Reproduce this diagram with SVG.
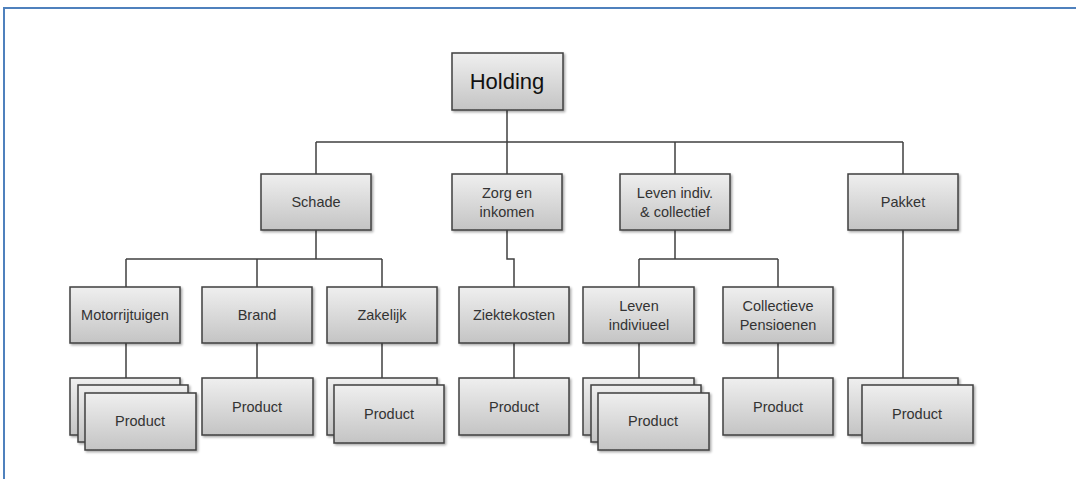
<svg xmlns="http://www.w3.org/2000/svg" width="1076" height="479" viewBox="0 0 1076 479">
<defs>
<linearGradient id="g" x1="0" y1="0" x2="0" y2="1">
<stop offset="0" stop-color="#efefef"/>
<stop offset="1" stop-color="#c4c4c4"/>
</linearGradient>
<filter id="sh" x="-10%" y="-10%" width="130%" height="130%">
<feDropShadow dx="1.5" dy="1.5" stdDeviation="1" flood-color="#000" flood-opacity="0.35"/>
</filter>
</defs>
<style>
.b{fill:url(#g);stroke:#404040;stroke-width:1.5;filter:url(#sh)}
.t{font-family:"Liberation Sans",Arial,sans-serif;font-size:14.5px;fill:#333;text-anchor:middle;dominant-baseline:central}
.h{font-family:"Liberation Sans",Arial,sans-serif;font-size:22px;fill:#111;text-anchor:middle;dominant-baseline:central}
.c{fill:none;stroke:#404040;stroke-width:1.5}
.f{fill:none;stroke:#4f81bd;stroke-width:2}
</style>
<rect width="1076" height="479" fill="#fff"/>
<path class="f" d="M4,479 V8 H1076"/>
<g id="connectors">
<path class="c" d="M507,110 V142 M316,142 H903 M316,142 V174 M507,142 V174 M675,142 V174 M903,142 V174"/>
<path class="c" d="M316,230 V259 M126,259 H382 M126,259 V287 M257,259 V287 M382,259 V287"/>
<path class="c" d="M507,230 V259 H514 V287"/>
<path class="c" d="M675,230 V259 M639,259 H778 M639,259 V287 M778,259 V287"/>
<path class="c" d="M903,230 V378"/>
<path class="c" d="M126,343 V378 M257,343 V378 M382,343 V378 M514,343 V378 M639,343 V378 M778,343 V378"/>
</g>
<g id="holding"><rect class="b" x="452" y="53" width="111" height="57"/><text class="h" x="507" y="81">Holding</text></g>
<g id="schade"><rect class="b" x="261" y="174" width="110" height="56"/><text class="t" x="316" y="202">Schade</text></g>
<g id="zorg"><rect class="b" x="452" y="174" width="110" height="56"/><text class="t" x="507" y="193">Zorg en</text><text class="t" x="507" y="212">inkomen</text></g>
<g id="leven-collectief"><rect class="b" x="620" y="174" width="110" height="56"/><text class="t" x="675" y="193">Leven indiv.</text><text class="t" x="675" y="212">&amp; collectief</text></g>
<g id="pakket"><rect class="b" x="848" y="174" width="110" height="56"/><text class="t" x="903" y="202">Pakket</text></g>
<g id="motorrijtuigen"><rect class="b" x="70" y="287" width="110" height="56"/><text class="t" x="125" y="315">Motorrijtuigen</text></g>
<g id="brand"><rect class="b" x="202" y="287" width="110" height="56"/><text class="t" x="257" y="315">Brand</text></g>
<g id="zakelijk"><rect class="b" x="327" y="287" width="110" height="56"/><text class="t" x="382" y="315">Zakelijk</text></g>
<g id="ziektekosten"><rect class="b" x="459" y="287" width="110" height="56"/><text class="t" x="514" y="315">Ziektekosten</text></g>
<g id="leven-individueel"><rect class="b" x="583" y="287" width="111" height="56"/><text class="t" x="639" y="306">Leven</text><text class="t" x="639" y="325">indiviueel</text></g>
<g id="collectieve-pensioenen"><rect class="b" x="723" y="287" width="110" height="56"/><text class="t" x="778" y="306">Collectieve</text><text class="t" x="778" y="325">Pensioenen</text></g>
<g id="product-motor"><rect class="b" x="70" y="378" width="110" height="57"/><rect class="b" x="78" y="385" width="110" height="57"/><rect class="b" x="85" y="393" width="111" height="57"/><text class="t" x="140" y="421">Product</text></g>
<g id="product-brand"><rect class="b" x="202" y="378" width="111" height="57"/><text class="t" x="257" y="407">Product</text></g>
<g id="product-zakelijk"><rect class="b" x="327" y="378" width="110" height="57"/><rect class="b" x="334" y="385" width="110" height="58"/><text class="t" x="389" y="414">Product</text></g>
<g id="product-ziektekosten"><rect class="b" x="459" y="378" width="110" height="57"/><text class="t" x="514" y="407">Product</text></g>
<g id="product-leven"><rect class="b" x="583" y="378" width="111" height="57"/><rect class="b" x="591" y="385" width="110" height="57"/><rect class="b" x="598" y="393" width="111" height="57"/><text class="t" x="653" y="421">Product</text></g>
<g id="product-collectief"><rect class="b" x="723" y="378" width="110" height="57"/><text class="t" x="778" y="407">Product</text></g>
<g id="product-pakket"><rect class="b" x="848" y="378" width="110" height="57"/><rect class="b" x="862" y="385" width="111" height="58"/><text class="t" x="917" y="414">Product</text></g>
</svg>
